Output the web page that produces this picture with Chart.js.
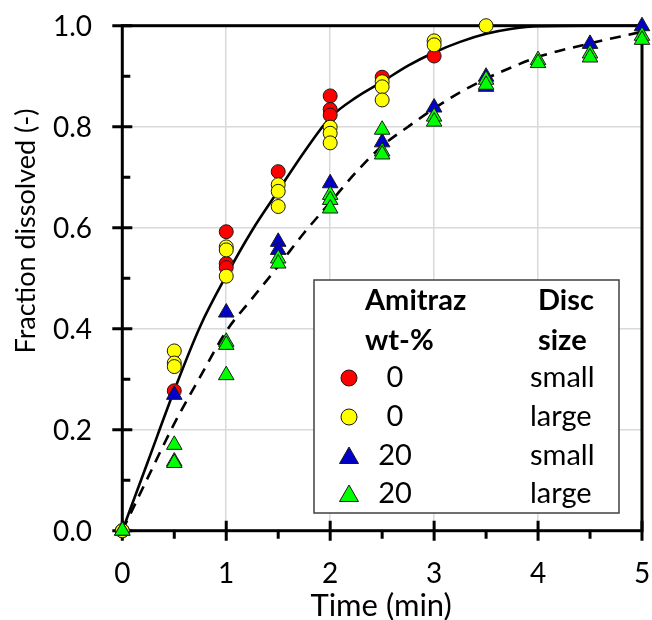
<!DOCTYPE html>
<html><head><meta charset="utf-8">
<script src="https://cdn.jsdelivr.net/npm/chart.js@4.4.0/dist/chart.umd.min.js"></script>
<style>html,body{margin:0;padding:0;background:#fff}#wrap{width:652px;height:620px;position:relative}</style>
</head><body><div id="wrap"><canvas id="c" width="652" height="620"></canvas></div>
<script>
// ---- data ----
const xTickLabels = ['0','1','2','3','4','5'];
const yTickLabels = ['0.0','0.2','0.4','0.6','0.8','1.0'];
const xMinorTicks = [0.5,1.5,2.5,3.5,4.5];
const yMinorTicks = [0.1,0.3,0.5,0.7,0.9];
const xTitle = 'Time (min)';
const yTitle = 'Fraction dissolved (-)';

// Amitraz 0 wt-%, small disc (red circles)
const redTime = [0, 0.5, 1, 1, 1, 1.5, 2, 2, 2, 2.5, 3];
const redFrac = [0, 0.277, 0.592, 0.529, 0.521, 0.711, 0.861, 0.834, 0.823, 0.898, 0.940];
// Amitraz 0 wt-%, large disc (yellow circles)
const yellowTime = [0, 0.5, 0.5, 0.5, 1, 1, 1, 1.5, 1.5, 1.5, 2, 2, 2, 2.5, 2.5, 2.5, 3, 3, 3.5];
const yellowFrac = [0, 0.356, 0.332, 0.325, 0.562, 0.556, 0.504, 0.685, 0.672, 0.642, 0.799, 0.787, 0.768, 0.889, 0.879, 0.853, 0.970, 0.962, 1.0];
// Amitraz 20 wt-%, small disc (blue triangles)
const blueTime = [0, 0.5, 1, 1.5, 1.5, 2, 2.5, 3, 3.5, 3.5, 4.5, 5];
const blueFrac = [0, 0.269, 0.432, 0.572, 0.556, 0.688, 0.769, 0.838, 0.899, 0.879, 0.964, 0.999];
// Amitraz 20 wt-%, large disc (green triangles)
const greenTime = [0, 0.5, 0.5, 0.5, 1, 1, 1, 1.5, 1.5, 2, 2, 2, 2.5, 2.5, 2.5, 3, 3, 3.5, 3.5, 4, 4, 4.5, 4.5, 5, 5];
const greenFrac = [0, 0.170, 0.137, 0.134, 0.374, 0.368, 0.308, 0.539, 0.529, 0.665, 0.655, 0.638, 0.794, 0.751, 0.745, 0.820, 0.810, 0.893, 0.883, 0.932, 0.926, 0.945, 0.937, 0.980, 0.972];

// fitted curves
const fitTime   = [0, 0.25, 0.5, 0.75, 1, 1.25, 1.5, 1.75, 2, 2.25, 2.5, 2.75, 3, 3.25, 3.5, 3.75, 4, 4.5, 5];
const solidFit  = [0, 0.139, 0.278, 0.405, 0.505, 0.595, 0.673, 0.750, 0.818, 0.858, 0.889, 0.921, 0.947, 0.968, 0.984, 0.994, 0.999, 1.0, 1.0];
const dashedFit = [0, 0.107, 0.212, 0.305, 0.395, 0.460, 0.524, 0.590, 0.650, 0.710, 0.762, 0.800, 0.836, 0.868, 0.895, 0.918, 0.938, 0.965, 0.988];

// legend content
const legendHead1 = ['Amitraz', 'wt-%'];
const legendHead2 = ['Disc', 'size'];
const legendWt = ['0', '0', '20', '20'];
const legendSize = ['small', 'large', 'small', 'large'];

const pts = (t, v) => t.map((x, i) => ({x, y: v[i]}));
const FONT = 'Lato, "Open Sans", sans-serif';

const styles = {
  red:    {bg:'#ff0000', style:'circle',   r:7},
  yellow: {bg:'#ffff00', style:'circle',   r:7},
  blue:   {bg:'#0000c8', style:'triangle', r:9},
  green:  {bg:'#00ff00', style:'triangle', r:9}
};

function markerDS(label, data, st, order){
  return {type:'scatter', label, data, order, clip:false,
    pointStyle:st.style, pointRadius:st.r, pointHoverRadius:st.r,
    backgroundColor:st.bg, borderColor:'#1a1a1a', borderWidth:1, showLine:false};
}

const framePlugin = {
  id:'frame',
  beforeDatasetsDraw(chart){
    const {ctx, chartArea:a, scales:{x, y}} = chart;
    ctx.save();
    ctx.strokeStyle = '#000'; ctx.lineWidth = 3; ctx.lineJoin = 'miter';
    ctx.strokeRect(a.left, a.top, a.right - a.left, a.bottom - a.top);
    ctx.beginPath();
    yTickLabels.forEach(l => { const p = y.getPixelForValue(parseFloat(l)); ctx.moveTo(a.left - 10, p); ctx.lineTo(a.left + 10, p); });
    yMinorTicks.forEach(v => { const p = y.getPixelForValue(v); ctx.moveTo(a.left, p); ctx.lineTo(a.left + 8, p); });
    xTickLabels.forEach(l => { const p = x.getPixelForValue(parseFloat(l)); ctx.moveTo(p, a.bottom - 10); ctx.lineTo(p, a.bottom + 10); });
    xMinorTicks.forEach(v => { const p = x.getPixelForValue(v); ctx.moveTo(p, a.bottom); ctx.lineTo(p, a.bottom + 8); });
    ctx.stroke();
    // tick labels
    ctx.fillStyle = '#000';
    ctx.font = '28px ' + FONT;
    ctx.textAlign = 'right'; ctx.textBaseline = 'middle';
    yTickLabels.forEach(l => ctx.fillText(l, 92, y.getPixelForValue(parseFloat(l)) + 1));
    ctx.textAlign = 'center'; ctx.textBaseline = 'alphabetic';
    xTickLabels.forEach(l => ctx.fillText(l, x.getPixelForValue(parseFloat(l)), 583));
    ctx.restore();
  },
  afterDraw(chart){
    const {ctx, chartArea:a} = chart;
    ctx.save();
    // axis titles
    ctx.fillStyle = '#000';
    ctx.font = '31px ' + FONT;
    ctx.textAlign = 'center'; ctx.textBaseline = 'alphabetic';
    ctx.fillText(xTitle, (a.left + a.right) / 2 - 1, 616);
    ctx.save();
    ctx.translate(35, 231); ctx.rotate(-Math.PI / 2);
    ctx.font = '27px ' + FONT;
    ctx.fillText(yTitle, 0, 0);
    ctx.restore();
    // legend box
    const L = 314, T = 280, W = 305, H = 233;
    ctx.fillStyle = '#fff'; ctx.fillRect(L, T, W, H);
    ctx.strokeStyle = '#404040'; ctx.lineWidth = 1.5; ctx.strokeRect(L, T, W, H);
    ctx.fillStyle = '#000';
    ctx.font = 'bold 29px ' + FONT; ctx.textAlign = 'left'; ctx.textBaseline = 'middle';
    ctx.fillText(legendHead1[0], 365, 301); ctx.fillText(legendHead1[1], 365, 341);
    ctx.fillText(legendHead2[0], 538, 301); ctx.fillText(legendHead2[1], 538, 341);
    const rows = [378, 417, 456, 494];
    const keys = ['red', 'yellow', 'blue', 'green'];
    ctx.font = '29px ' + FONT;
    rows.forEach((ry, i) => {
      const st = styles[keys[i]];
      ctx.fillStyle = st.bg; ctx.strokeStyle = '#1a1a1a'; ctx.lineWidth = 1;
      ctx.beginPath();
      if (st.style === 'circle') { ctx.arc(349, ry, 8, 0, Math.PI * 2); }
      else { ctx.moveTo(349, ry - 9); ctx.lineTo(358.5, ry + 7.5); ctx.lineTo(339.5, ry + 7.5); ctx.closePath(); }
      ctx.fill(); ctx.stroke();
      ctx.fillStyle = '#000';
      ctx.textAlign = 'center'; ctx.fillText(legendWt[i], 395, ry);
      ctx.textAlign = 'left'; ctx.fillText(legendSize[i], 530, ry);
    });
    ctx.restore();
  }
};

const gridColor = (max) => (c) => (c.tick && (c.tick.value <= 0 || c.tick.value >= max)) ? 'rgba(0,0,0,0)' : '#d9d9d9';

new Chart(document.getElementById('c'), {
  type:'scatter',
  data:{datasets:[
    markerDS('20 large', pts(greenTime, greenFrac), styles.green, 0),
    markerDS('20 small', pts(blueTime, blueFrac), styles.blue, 1),
    markerDS('0 large', pts(yellowTime, yellowFrac), styles.yellow, 2),
    markerDS('0 small', pts(redTime, redFrac), styles.red, 3),
    {type:'line', label:'fit 0', data:pts(fitTime, solidFit), order:4, borderColor:'#000', borderWidth:2.6,
      pointRadius:0, fill:false, cubicInterpolationMode:'monotone', clip:false},
    {type:'line', label:'fit 20', data:pts(fitTime, dashedFit), order:5, borderColor:'#000', borderWidth:2.6,
      borderDash:[11, 8], pointRadius:0, fill:false, cubicInterpolationMode:'monotone', clip:false}
  ]},
  options:{
    responsive:false, animation:false, devicePixelRatio:1,
    layout:{padding:{left:0, right:8.7, top:25.7, bottom:0}},
    plugins:{legend:{display:false}, tooltip:{enabled:false}},
    scales:{
      x:{type:'linear', min:0, max:5,
        afterFit:(s) => { s.height = 89.3; },
        ticks:{display:false, stepSize:1},
        grid:{color:gridColor(5), lineWidth:1.5, drawTicks:false}, border:{display:false}},
      y:{type:'linear', min:0, max:1,
        afterFit:(s) => { s.width = 122.3; },
        ticks:{display:false, stepSize:0.2},
        grid:{color:gridColor(1), lineWidth:1.5, drawTicks:false}, border:{display:false}}
    }
  },
  plugins:[framePlugin]
});
</script></body></html>
